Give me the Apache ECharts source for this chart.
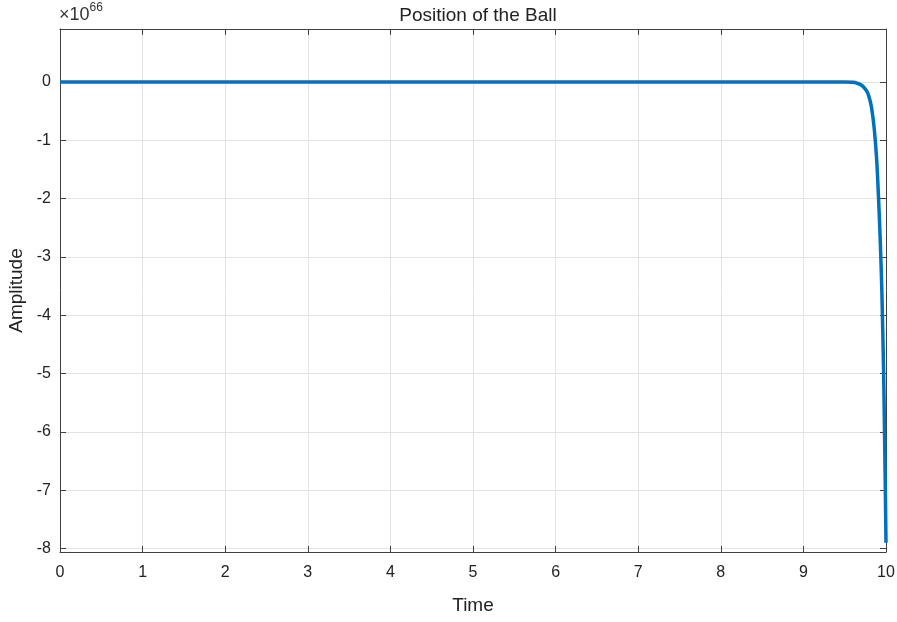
<!DOCTYPE html>
<html>
<head>
<meta charset="utf-8">
<script src="https://cdn.jsdelivr.net/npm/echarts@6/dist/echarts.min.js"></script>
<style>
  html, body { margin: 0; padding: 0; background: #fff; }
  #chart { width: 897px; height: 622px; }
</style>
</head>
<body>
<div id="chart"></div>
<script>
// time samples and position (in units of 1e66)
const timeData = [0, 9.5, 9.6, 9.65, 9.7, 9.75, 9.78, 9.82, 9.85, 9.87, 9.89, 9.91, 9.93, 9.95, 9.97, 9.98, 9.99, 10]
const posData = [0, 0, -0.005, -0.02, -0.05, -0.12, -0.19, -0.4, -0.7, -1.0, -1.4, -2.0, -2.7, -3.6, -4.9, -5.8, -6.8, -7.9]
const yTicks = [-8, -7, -6, -5, -4, -3, -2, -1, 0]

const font = 'Liberation Sans, Arial, sans-serif'
const axisColor = '#404040'
const gridColor = '#e3e3e3'

const chart = echarts.init(document.getElementById('chart'))

const boxAxis = {
  axisLine: { show: true, onZero: false, lineStyle: { color: axisColor, width: 1 } },
  axisTick: { show: true, inside: true, length: 6, lineStyle: { color: axisColor } },
  axisLabel: { show: false },
  splitLine: { show: false }
}

const option = {
  animation: false,
  title: {
    text: 'Position of the Ball',
    left: 473,
    textAlign: 'center',
    top: 1,
    textStyle: { fontFamily: font, fontSize: 19, fontWeight: 'normal', color: '#222' }
  },
  graphic: [{
    type: 'text',
    left: 59,
    top: 2,
    style: {
      text: '{a|×10}{b|66}',
      rich: {
        a: { fontFamily: font, fontSize: 18, fill: '#333', verticalAlign: 'bottom' },
        b: { fontFamily: font, fontSize: 12, fill: '#333', verticalAlign: 'top', padding: [0, 0, 10, 0] }
      }
    }
  }],
  grid: { left: 60, right: 11, top: 29, bottom: 70, outerBoundsMode: 'none' },
  xAxis: [
    {
      type: 'value',
      min: 0,
      max: 10,
      interval: 1,
      name: 'Time',
      nameLocation: 'middle',
      nameGap: 44,
      nameTextStyle: { fontFamily: font, fontSize: 19, color: '#222' },
      axisLine: { show: true, onZero: false, lineStyle: { color: axisColor } },
      axisTick: { show: true, inside: true, length: 6, lineStyle: { color: axisColor } },
      axisLabel: { fontFamily: font, fontSize: 16, color: '#222', margin: 13 },
      splitLine: { show: true, lineStyle: { color: gridColor } }
    },
    Object.assign({ type: 'value', min: 0, max: 10, interval: 1, position: 'top' }, boxAxis)
  ],
  yAxis: [
    {
      type: 'value',
      min: -8.06,
      max: 0.91,
      name: 'Amplitude',
      nameLocation: 'middle',
      nameGap: 31,
      nameTextStyle: { fontFamily: font, fontSize: 19, color: '#222' },
      axisLine: { show: true, onZero: false, lineStyle: { color: axisColor } },
      axisTick: { show: true, inside: true, length: 6, customValues: yTicks, lineStyle: { color: axisColor } },
      axisLabel: { fontFamily: font, fontSize: 16, color: '#222', margin: 9, customValues: yTicks },
      splitLine: { show: true, lineStyle: { color: gridColor } }
    },
    Object.assign({}, boxAxis, {
      type: 'value', min: -8.06, max: 0.91, position: 'right',
      axisTick: { show: true, inside: true, length: 6, customValues: yTicks, lineStyle: { color: axisColor } }
    })
  ],
  series: [{
    type: 'line',
    data: timeData.map((t, i) => [t, posData[i]]),
    smooth: 0.3,
    showSymbol: false,
    lineStyle: { color: '#0072BD', width: 3.5 },
    clip: true
  }]
}

chart.setOption(option)
</script>
</body>
</html>
